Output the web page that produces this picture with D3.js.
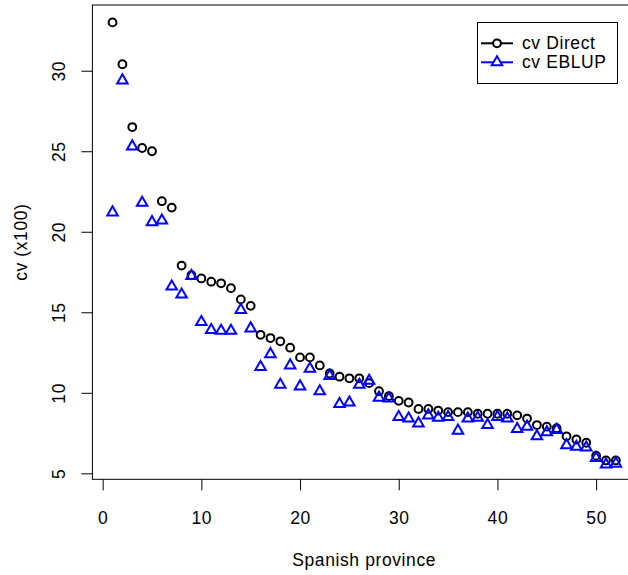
<!DOCTYPE html>
<html>
<head>
<meta charset="utf-8">
<script src="https://cdn.jsdelivr.net/npm/d3@7"></script>
<style>
  body { margin: 0; background: #fff; }
  text { font-family: 'Liberation Sans', Arial, sans-serif; letter-spacing: 0.6px; }
</style>
</head>
<body>
<div id="chart"></div>
<script>
// province index 1..52, cv values (x100)
let provinces = d3.range(1, 53)
let cvDirect = [33.0, 30.4, 26.5, 25.2, 25.0, 21.9, 21.5, 17.9, 17.3, 17.1,
  16.9, 16.8, 16.5, 15.8, 15.4, 13.6, 13.4, 13.2, 12.8, 12.2,
  12.2, 11.7, 11.2, 11.0, 10.9, 10.9, 10.6, 10.1, 9.8, 9.5,
  9.4, 9.0, 9.0, 8.9, 8.8, 8.8, 8.8, 8.7, 8.7, 8.7,
  8.7, 8.6, 8.4, 8.0, 7.9, 7.8, 7.3, 7.1, 6.9, 6.1,
  5.8, 5.8]
let cvEblup = [21.2, 29.4, 25.3, 21.8, 20.6, 20.7, 16.6, 16.1, 17.25, 14.4,
  13.9, 13.85, 13.85, 15.15, 14.0, 11.6, 12.4, 10.5, 11.7, 10.4,
  11.5, 10.1, 11.05, 9.3, 9.4, 10.5, 10.75, 9.7, 9.65, 8.5,
  8.4, 8.1, 8.6, 8.45, 8.5, 7.65, 8.4, 8.45, 8.0, 8.5,
  8.4, 7.75, 7.9, 7.3, 7.55, 7.7, 6.75, 6.65, 6.6, 5.95,
  5.55, 5.6]
let xTicks = [0, 10, 20, 30, 40, 50]
let yTicks = [5, 10, 15, 20, 25, 30]
let legendLabels = ['cv Direct', 'cv EBLUP']

let w = 628
let h = 575
let plotLeft = 92.4
let plotRight = 636
let plotTop = 5
let plotBottom = 479.3
let fontSize = '17.5px'

let x = d3.scaleLinear().domain([-1.04, 54.04]).range([plotLeft, plotRight])
let y = d3.scaleLinear().domain([4.63, 34.08]).range([plotBottom, plotTop])

let svg = d3.select('#chart').append('svg')
  .attr('width', w)
  .attr('height', h)

// triangle like R pch 2, centred on its centroid
let tri = function (s) {
  return 'M0,' + (-1.555 * s) + 'L' + (1.347 * s) + ',' + (0.778 * s) +
    'L' + (-1.347 * s) + ',' + (0.778 * s) + 'Z'
}
let size = 3.9

let xAxis = svg.append('g')
  .attr('transform', 'translate(0,' + plotBottom + ')')
  .call(d3.axisBottom(x).tickValues(xTicks).tickSize(11).tickPadding(0).tickSizeOuter(0))
xAxis.select('.domain').remove()
xAxis.selectAll('line').attr('stroke', '#000')
xAxis.selectAll('text')
  .attr('y', 44.5)
  .attr('dy', 0)
  .style('font-size', fontSize)
  .attr('fill', '#000')

let yAxis = svg.append('g')
  .attr('transform', 'translate(' + plotLeft + ',0)')
  .call(d3.axisLeft(y).tickValues(yTicks).tickSize(11).tickSizeOuter(0))
yAxis.select('.domain').remove()
yAxis.selectAll('line').attr('stroke', '#000')
yAxis.selectAll('text')
  .attr('transform', 'rotate(-90)')
  .attr('x', 0)
  .attr('y', -27.4)
  .attr('dy', 0)
  .style('text-anchor', 'middle')
  .style('font-size', fontSize)
  .attr('fill', '#000')

// plot frame
svg.append('rect')
  .attr('x', plotLeft)
  .attr('y', plotTop)
  .attr('width', plotRight - plotLeft)
  .attr('height', plotBottom - plotTop)
  .attr('fill', 'none')
  .attr('stroke', '#000')
  .attr('stroke-width', 1)

svg.append('text')
  .attr('x', (plotLeft + plotRight) / 2)
  .attr('y', 566)
  .style('text-anchor', 'middle')
  .style('font-size', fontSize)
  .text('Spanish province')

svg.append('text')
  .attr('transform', 'translate(27,' + ((plotTop + plotBottom) / 2) + ') rotate(-90)')
  .style('text-anchor', 'middle')
  .style('font-size', fontSize)
  .text('cv (x100)')

svg.append('g')
  .selectAll('circle')
  .data(provinces)
  .enter().append('circle')
  .attr('cx', function (d) { return x(d) })
  .attr('cy', function (d, i) { return y(cvDirect[i]) })
  .attr('r', size)
  .attr('fill', 'none')
  .attr('stroke', '#000')
  .attr('stroke-width', 2)

svg.append('g')
  .selectAll('path')
  .data(provinces)
  .enter().append('path')
  .attr('transform', function (d, i) {
    return 'translate(' + x(d) + ',' + y(cvEblup[i]) + ')'
  })
  .attr('d', tri(size))
  .attr('fill', 'none')
  .attr('stroke', '#0000ff')
  .attr('stroke-width', 2)

// legend
let legend = svg.append('g')
legend.append('rect')
  .attr('x', 477.5)
  .attr('y', 22.5)
  .attr('width', 140)
  .attr('height', 61)
  .attr('fill', '#fff')
  .attr('stroke', '#000')

let colors = ['#000', '#0000ff']
let rows = legend.selectAll('.row')
  .data(legendLabels)
  .enter().append('g')
  .attr('class', 'row')
  .attr('transform', function (d, i) { return 'translate(0,' + (43.3 + i * 19) + ')' })

rows.append('line')
  .attr('x1', 481)
  .attr('x2', 513)
  .attr('stroke', function (d, i) { return colors[i] })
  .attr('stroke-width', 2)

rows.each(function (d, i) {
  let g = d3.select(this)
  if (i === 0) {
    g.append('circle').attr('cx', 497).attr('r', size)
      .attr('fill', '#fff').attr('stroke', colors[i]).attr('stroke-width', 2)
  } else {
    g.append('path').attr('transform', 'translate(497,0)').attr('d', tri(size))
      .attr('fill', '#fff').attr('stroke', colors[i]).attr('stroke-width', 2)
  }
})

rows.append('text')
  .attr('x', 522)
  .attr('y', 6)
  .style('font-size', fontSize)
  .text(function (d) { return d })
</script>
</body>
</html>
